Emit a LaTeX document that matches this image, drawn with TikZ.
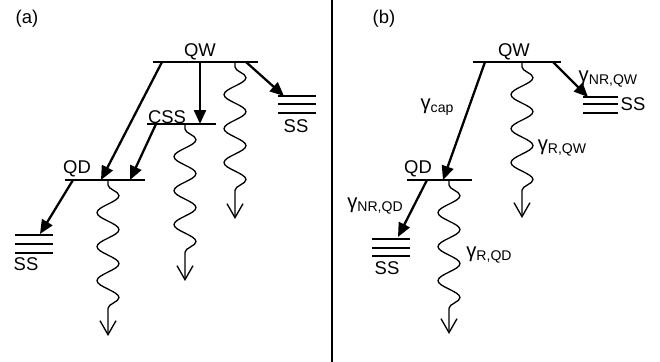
\documentclass[tikz,border=0pt]{standalone}
\usepackage{fontspec}
\setmainfont{Liberation Sans}
\usetikzlibrary{arrows.meta, decorations.pathmorphing}

\newcommand{\rate}[1]{{\fontsize{11.5}{13}\selectfont γ}\raisebox{-1.5pt}{\fontsize{8}{9}\selectfont #1}}

\begin{document}
\begin{tikzpicture}[x=0.02cm, y=-0.02cm,
  level/.style={line width=1.7pt},
  lbl/.style={font=\fontsize{10.5}{12}\selectfont, inner sep=0pt},
  jump/.style={line width=1.3pt, -{Triangle[length=2.8mm, width=2.4mm]}},
  glow/.style={line width=0.75pt, -{Straight Barb[length=2.8mm, width=3.2mm]},
    decorate, decoration={snake, segment length=6.8mm, amplitude=2.2mm, pre length=1mm, post length=3mm}},
]
  \useasboundingbox (0,0) rectangle (660,362);

  % (a) levels
  \node[lbl] (tagA) at (27,19) {(a)};
  \draw[level] (153,62) -- (258,62);
  \node[lbl] (qwA) at (200,52) {QW};
  \draw[level] (147,124) -- (216,124);
  \node[lbl] (cssA) at (167,117) {CSS};
  \draw[level] (65,180) -- (145,180);
  \node[lbl] (qdA) at (77,169) {QD};
  \foreach \y in {96,104,113} \draw[level] (278,\y) -- (316,\y);
  \node[lbl] (ssA1) at (296,126) {SS};
  \foreach \y in {235,244,253} \draw[level] (15,\y) -- (53,\y);
  \node[lbl] (ssA2) at (26,264) {SS};

  % (a) transitions
  \coordinate (qwA-cap) at (162,62);
  \coordinate (qwA-css) at (200,62);
  \coordinate (qwA-rad) at (235,62);
  \coordinate (qwA-ss) at (246,62);
  \coordinate (cssA-in) at (200,124);
  \coordinate (cssA-cap) at (156,124);
  \coordinate (cssA-rad) at (185,124);
  \coordinate (qdA-in) at (101,180);
  \coordinate (qdA-in2) at (130,180);
  \coordinate (qdA-ss) at (73,180);
  \coordinate (qdA-rad) at (108,180);
  \coordinate (ssA1-in) at (284,96);
  \coordinate (ssA2-in) at (40,234);
  \coordinate (radA1) at (235,219);
  \coordinate (radA2) at (185,281);
  \coordinate (radA3) at (108,336);

  \draw[jump] (qwA-cap) -- (qdA-in);
  \draw[jump] (qwA-css) -- (cssA-in);
  \draw[jump] (cssA-cap) -- (qdA-in2);
  \draw[jump] (qwA-ss) -- (ssA1-in);
  \draw[jump] (qdA-ss) -- (ssA2-in);
  \draw[glow] (qwA-rad) -- (radA1);
  \draw[glow] (cssA-rad) -- (radA2);
  \draw[glow] (qdA-rad) -- (radA3);

  % divider
  \coordinate (divTop) at (332,0);
  \coordinate (divBot) at (332,362);
  \draw[line width=1.3pt] (divTop) -- (divBot);

  % (b) levels
  \node[lbl] (tagB) at (384,19) {(b)};
  \draw[level] (473,62) -- (561,62);
  \node[lbl] (qwB) at (514,52) {QW};
  \draw[level] (407,180) -- (472,180);
  \node[lbl] (qdB) at (418,169) {QD};
  \foreach \y in {97,104,113} \draw[level] (583,\y) -- (618,\y);
  \node[lbl] (ssB1) at (633,104) {SS};
  \foreach \y in {239,248,256} \draw[level] (372,\y) -- (410,\y);
  \node[lbl] (ssB2) at (387,268) {SS};

  % (b) rates
  \coordinate (qwB-cap) at (485,62);
  \coordinate (qwB-ss) at (553,62);
  \coordinate (qwB-rad) at (522,62);
  \coordinate (qdB-in) at (443,180);
  \coordinate (qdB-ss) at (427,180);
  \coordinate (qdB-rad) at (449,180);
  \coordinate (ssB1-in) at (588,97);
  \coordinate (ssB2-in) at (398,237);
  \coordinate (radB1) at (522,218);
  \coordinate (radB2) at (449,334);

  \draw[jump] (qwB-cap) -- (qdB-in);
  \draw[jump] (qwB-ss) -- (ssB1-in);
  \draw[jump] (qdB-ss) -- (ssB2-in);
  \draw[glow] (qwB-rad) -- (radB1);
  \draw[glow] (qdB-rad) -- (radB2);

  \node[lbl] (rCap) at (437,107) {\rate{cap}};
  \node[lbl] (rNRqw) at (608,79) {\rate{NR,QW}};
  \node[lbl] (rNRqd) at (375,206) {\rate{NR,QD}};
  \node[lbl] (rRqw) at (562,148) {\rate{R,QW}};
  \node[lbl] (rRqd) at (489,255) {\rate{R,QD}};
\end{tikzpicture}
\end{document}
